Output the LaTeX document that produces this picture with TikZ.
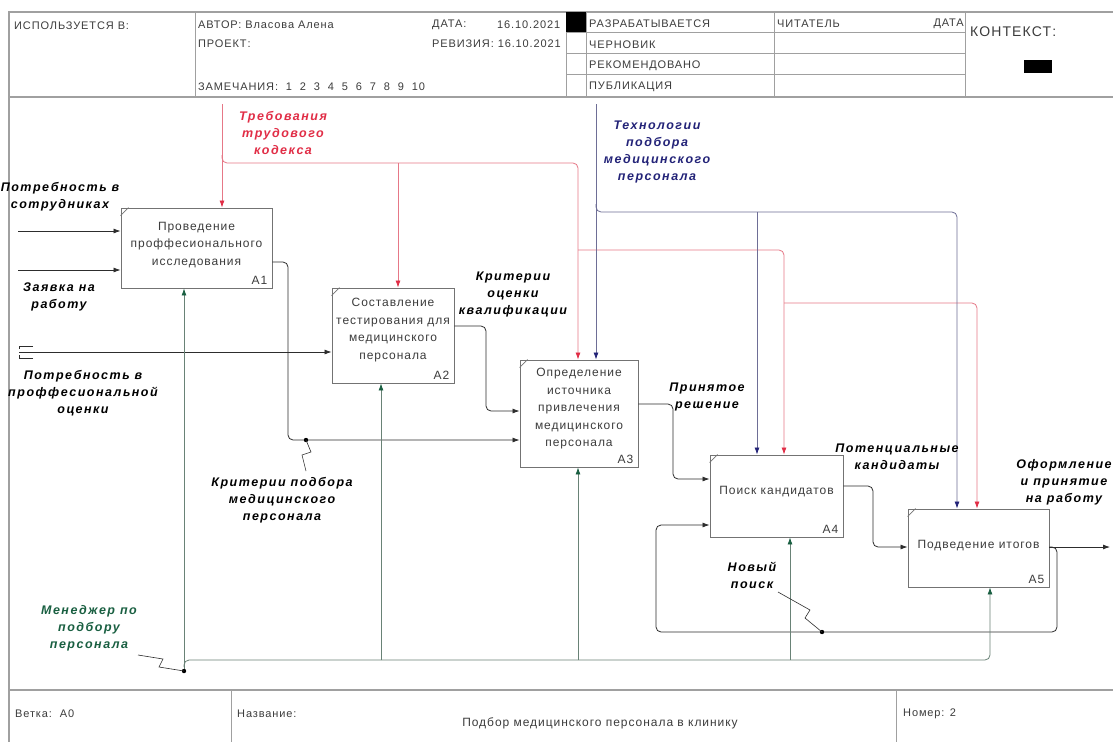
\documentclass[tikz,border=0pt]{standalone}
\usepackage{fontspec}
\setmainfont[LetterSpace=8]{Liberation Sans}
\newfontfamily\lblfont[LetterSpace=12]{Liberation Sans}
\usetikzlibrary{arrows.meta, positioning}

\definecolor{ctlred}{RGB}{225,45,70}
\definecolor{ctlredline}{RGB}{230,120,135}
\definecolor{ctlblue}{RGB}{35,35,120}
\definecolor{ctlblueline}{RGB}{110,110,150}
\definecolor{mechgreen}{RGB}{25,95,65}
\definecolor{mechline}{RGB}{105,130,118}
\definecolor{framegray}{RGB}{160,160,160}
\definecolor{boxtxt}{RGB}{60,60,60}

\tikzstyle{func} = [rectangle, draw=gray!90!black, line width=0.9pt, fill=white, inner sep=0pt]
\tikzstyle{functext} = [text=boxtxt, align=center, inner sep=0pt, font=\fontsize{12}{17.5}\selectfont]
\tikzstyle{num} = [anchor=south east, inner sep=1pt, text=boxtxt, font=\fontsize{12}{14}\selectfont]
\tikzstyle{lbl} = [align=center, inner sep=0pt, font=\fontsize{12.5}{17}\lblfont\bfseries\itshape]
\tikzstyle{hdr} = [anchor=west, inner sep=0pt, text=boxtxt, font=\fontsize{11}{13}\selectfont]
\tikzstyle{flow} = [draw=gray!35!black, line width=0.8pt, rounded corners=5pt, -{Latex[length=7pt,width=5pt]}]
\tikzstyle{ctlr} = [draw=ctlredline, line width=0.8pt, rounded corners=5pt, -{Latex[length=7pt,width=5pt,color=ctlred]}]
\tikzstyle{ctlb} = [draw=ctlblueline, line width=0.8pt, rounded corners=5pt, -{Latex[length=7pt,width=5pt,color=ctlblue]}]
\tikzstyle{mech} = [draw=mechline, line width=0.8pt, rounded corners=5pt, -{Latex[length=7pt,width=5pt,color=mechgreen]}]
\tikzstyle{squig} = [draw=gray!35!black, line width=0.6pt]

\begin{document}
\begin{tikzpicture}[x=1pt, y=-1pt]
\useasboundingbox[fill=white] (0,0) rectangle (1113,742);

%% frame: header and footer
\draw[framegray, line width=1.2pt] (1113,12) -- (9,12) -- (9,742);
\draw[framegray, line width=1.2pt] (9,97) -- (1113,97);
\draw[framegray, line width=1.2pt] (9,690) -- (1113,690);
\draw[framegray, line width=0.8pt] (195,12) -- (195,97) (566,12) -- (566,97) (586,12) -- (586,97)
      (774,12) -- (774,97) (965,12) -- (965,97);
\draw[framegray, line width=0.8pt] (566,32) -- (965,32) (566,53) -- (965,53) (566,74) -- (965,74);
\draw[framegray, line width=0.8pt] (231,690) -- (231,742) (896,690) -- (896,742);
\fill[black] (566,12) rectangle (586,32);
\fill[black] (1024,60) rectangle (1052,73);

\node (used) [hdr] at (14,26) {ИСПОЛЬЗУЕТСЯ В:};
\node (author) [hdr] at (198,25) {АВТОР: Власова Алена};
\node (project) [hdr] at (198,44) {ПРОЕКТ:};
\node (notes) [hdr] at (198,87) {ЗАМЕЧАНИЯ:\ \ 1\ \ 2\ \ 3\ \ 4\ \ 5\ \ 6\ \ 7\ \ 8\ \ 9\ \ 10};
\node (date) [hdr] at (432,25) {ДАТА:};
\node (dateval) [hdr] at (497,25) {16.10.2021};
\node (rev) [hdr] at (432,44) {РЕВИЗИЯ: 16.10.2021};
\node (st1) [hdr] at (589,24) {РАЗРАБАТЫВАЕТСЯ};
\node (st2) [hdr] at (589,45) {ЧЕРНОВИК};
\node (st3) [hdr] at (589,66) {РЕКОМЕНДОВАНО};
\node (st4) [hdr] at (589,87) {ПУБЛИКАЦИЯ};
\node (reader) [hdr] at (777,24) {ЧИТАТЕЛЬ};
\node (rdate) [hdr, anchor=east] at (964,24) {ДАТА};
\node (context) [hdr, font=\fontsize{14}{16}\selectfont] at (970,32) {КОНТЕКСТ:};
\node (branch) [hdr] at (15,714) {Ветка:\ \ A0};
\node (title) [hdr] at (237,714) {Название:};
\node (titleval) [hdr, anchor=center, font=\fontsize{12}{14}\selectfont] at (600,723) {Подбор медицинского персонала в клинику};
\node (pagenum) [hdr] at (903,714) {Номер: 2};

%% function boxes
\node (A1) [func, minimum width=151pt, minimum height=80pt] at (196.5,248) {};
\node (A2) [func, minimum width=122pt, minimum height=95pt] at (393,335.5) {};
\node (A3) [func, minimum width=118pt, minimum height=107pt] at (579,413.5) {};
\node (A4) [func, minimum width=133pt, minimum height=82pt] at (776.5,496) {};
\node (A5) [func, minimum width=141pt, minimum height=78pt] at (978.5,548) {};

\node (A1txt) [functext] at ([yshift=3pt]A1.center) {Проведение\\проффесионального\\исследования};
\node (A2txt) [functext] at ([yshift=5.5pt]A2.center) {Составление\\тестирования для\\медицинского\\персонала};
\node (A3txt) [functext] at ([yshift=4.5pt]A3.center) {Определение\\источника\\привлечения\\медицинского\\персонала};
\node (A4txt) [functext] at ([yshift=4pt]A4.center) {Поиск кандидатов};
\node (A5txt) [functext] at ([yshift=2pt]A5.center) {Подведение итогов};

\foreach \b in {A1,A2,A3,A4,A5} {
  \node (\b num) [num] at ([shift={(-4pt,3pt)}]\b.south east) {\b};
  \draw[gray!90!black, line width=0.6pt] ([yshift=-8pt]\b.north west) -- ([xshift=8pt]\b.north west);
}

%% arrow ends on the boxes
\coordinate (c1r) at ([xshift=25.5pt]A1.north);
\coordinate (c2r) at ([xshift=5pt]A2.north);
\coordinate (c3r) at ([xshift=-1pt]A3.north);
\coordinate (c4r) at ([xshift=7.5pt]A4.north);
\coordinate (c5r) at ([xshift=-1.5pt]A5.north);
\coordinate (c3b) at ([xshift=17pt]A3.north);
\coordinate (c4b) at ([xshift=-19.5pt]A4.north);
\coordinate (c5b) at ([xshift=-21.5pt]A5.north);
\coordinate (c1m) at ([xshift=-12.5pt]A1.south);
\coordinate (c2m) at ([xshift=-12pt]A2.south);
\coordinate (c3m) at ([xshift=-1pt]A3.south);
\coordinate (c4m) at ([xshift=13.5pt]A4.south);
\coordinate (c5m) at ([xshift=11.5pt]A5.south);

%% inputs
\coordinate (src1) at (18,231);
\coordinate (src2) at (18,270);
\coordinate (src3) at (19,352);
\draw[flow] (src1) -- ([yshift=17pt]A1.west);
\draw[flow] (src2) -- ([yshift=-22pt]A1.west);
\draw[flow] (src3) -- ([yshift=-16.5pt]A2.west);
\draw[squig] (src3) ++(14,-6) -- ++(-14,0) -- ++(0,3);
\draw[squig] (src3) ++(14,6) -- ++(-14,0) -- ++(0,-3);

%% outputs between boxes
\coordinate (k1) at (288,440);
\coordinate (k2) at (486,411);
\coordinate (k3) at (673,479);
\coordinate (k4) at (873,547);
\draw[flow] ([yshift=-14pt]A1.east) -| (k1) -- ([yshift=-26.5pt]A3.west);
\draw[flow] ([yshift=9.5pt]A2.east) -| (k2) -- ([yshift=2.5pt]A3.west);
\draw[flow] ([yshift=9.5pt]A3.east) -| (k3) -- ([yshift=17pt]A4.west);
\draw[flow] ([yshift=10pt]A4.east) -| (k4) -- ([yshift=1pt]A5.west);
\coordinate (res) at (1110,547);
\draw[flow] ([yshift=1pt]A5.east) -- (res);

%% feedback: new search
\coordinate (k5) at (1057,632);
\coordinate (k6) at (656,632);
\draw[flow] ([yshift=1pt]A5.east) -| (k5) -- (k6) |- ([yshift=-29pt]A4.west);

%% controls
\coordinate (redsrc) at (222,104);
\coordinate (redbus) at (222,163);
\coordinate (redbus2) at (578,250);
\coordinate (redbus3) at (784,303);
\draw[ctlr] (redsrc) -- (c1r);
\draw[ctlr] ([yshift=8pt]redbus) |- (c3r |- redbus) -- (c3r);
\draw[ctlr] (redbus -| c2r) -- (c2r);
\draw[ctlr] (redbus2) -| (c4r);
\draw[ctlr] (redbus3) -| (c5r);

\coordinate (bluesrc) at (596,104);
\coordinate (bluebus) at (596,212);
\draw[ctlb] (bluesrc) -- (c3b);
\draw[ctlb] ([yshift=8pt]bluebus) |- (c5b |- bluebus) -- (c5b);
\draw[ctlb] (bluebus -| c4b) -- (c4b);

%% mechanisms
\coordinate (mechsrc) at (184,671);
\coordinate (mechbus) at (184,660);
\draw[mech] (mechsrc) -- (c1m);
\draw[mech] ([yshift=-7pt]mechbus) |- (c5m |- mechbus) -- (c5m);
\draw[mech] (mechbus -| c2m) -- (c2m);
\draw[mech] (mechbus -| c3m) -- (c3m);
\draw[mech] (mechbus -| c4m) -- (c4m);

%% junction dots and squiggles
\coordinate (dot1) at (306,440);
\coordinate (dot2) at (822,632);
\fill (dot1) circle (2.2pt);
\fill (dot2) circle (2.2pt);
\fill (mechsrc) circle (2.2pt);
\draw[squig] (dot1) -- ++(5,12) -- ++(-9,3) -- ++(4,16);
\draw[squig] (dot2) -- ++(-17,-14) -- ++(5,-8) -- ++(-32,-18);
\draw[squig] (mechsrc) -- ++(-25,-4) -- ++(4,-8) -- ++(-25,-4);

%% arrow labels
\node (needstaff) [lbl] at (60,197) {Потребность в\\сотрудниках};
\node (request) [lbl] at (59,297) {Заявка на\\работу};
\node (needeval) [lbl] at (83,393) {Потребность в\\проффесиональной\\оценки};
\node (labour) [lbl, text=ctlred] at (283,133) {Требования\\трудового\\кодекса};
\node (tech) [lbl, text=ctlblue] at (657,152) {Технологии\\подбора\\медицинского\\персонала};
\node (qualif) [lbl] at (513,294) {Критерии\\оценки\\квалификации};
\node (decision) [lbl] at (707,397) {Принятое\\решение};
\node (cands) [lbl] at (897,457) {Потенциальные\\кандидаты};
\node (hiring) [lbl] at (1064,482) {Оформление\\и принятие\\на работу};
\node (newsearch) [lbl] at (752,575) {Новый\\поиск};
\node (criteria) [lbl] at (282,500) {Критерии подбора\\медицинского\\персонала};
\node (manager) [lbl, text=mechgreen] at (89,628) {Менеджер по\\подбору\\персонала};
\end{tikzpicture}
\end{document}
